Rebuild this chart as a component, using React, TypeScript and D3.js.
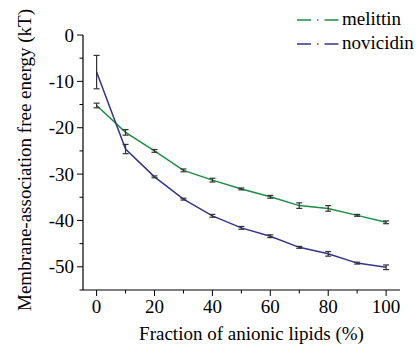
import React from "react";
import * as d3 from "d3";

const fractions = [0, 10, 20, 30, 40, 50, 60, 70, 80, 90, 100];
const melittin = [-15.2, -21.0, -25.0, -29.2, -31.3, -33.2, -34.9, -36.8, -37.4, -38.9, -40.4];
const melittinErr = [0.5, 0.6, 0.3, 0.3, 0.4, 0.2, 0.3, 0.6, 0.6, 0.2, 0.3];
const novicidin = [-8.0, -24.6, -30.6, -35.4, -39.0, -41.6, -43.4, -45.8, -47.2, -49.2, -50.1];
const novicidinErr = [3.6, 1.0, 0.2, 0.2, 0.3, 0.3, 0.3, 0.2, 0.5, 0.2, 0.5];
const yMajorTicks = [0, -10, -20, -30, -40, -50];
const yMinorTicks = [-5, -15, -25, -35, -45, -55];
const xMajorTicks = [0, 20, 40, 60, 80, 100];
const xMinorTicks = [10, 30, 50, 70, 90];
const seriesNames = ["melittin", "novicidin"];
const seriesColors = ["#1e8c45", "#34348a"];

const W = 418, H = 347;
const left = 83, right = 400, top = 35, bottom = 290;
const font = "Liberation Serif, Times New Roman, serif";

export default function App() {
  const x = d3.scaleLinear().domain([-4.7, 104.8]).range([left, right]);
  const y = d3.scaleLinear().domain([-55, 0]).range([bottom, top]);
  const line = d3.line<number>().x((_, i) => x(fractions[i])).y((d) => y(d));
  const series = [
    { vals: melittin, errs: melittinErr },
    { vals: novicidin, errs: novicidinErr },
  ];
  return (
    <svg width={W} height={H} style={{ position: "absolute", left: 0, top: 0, background: "#fff" }}>
      <line x1={left} x2={left} y1={y(0)} y2={bottom} stroke="#000" strokeWidth={1.2} />
      <line x1={left} x2={right} y1={bottom} y2={bottom} stroke="#000" strokeWidth={1.2} />
      {yMajorTicks.map((t) => (
        <g key={"ym" + t}>
          <line x1={left - 6} x2={left} y1={y(t)} y2={y(t)} stroke="#000" strokeWidth={1} />
          <text x={left - 9} y={y(t)} dy="0.35em" textAnchor="end" style={{ fontFamily: font, fontSize: 19 }}>
            {t === 0 ? "0" : "-" + Math.abs(t)}
          </text>
        </g>
      ))}
      {yMinorTicks.map((t) => (
        <line key={"yn" + t} x1={left - 3.5} x2={left} y1={y(t)} y2={y(t)} stroke="#000" strokeWidth={1} />
      ))}
      {xMajorTicks.map((t) => (
        <g key={"xm" + t}>
          <line x1={x(t)} x2={x(t)} y1={bottom} y2={bottom + 6} stroke="#000" strokeWidth={1} />
          <text x={x(t)} y={313} textAnchor="middle" style={{ fontFamily: font, fontSize: 19 }}>
            {t}
          </text>
        </g>
      ))}
      {xMinorTicks.map((t) => (
        <line key={"xn" + t} x1={x(t)} x2={x(t)} y1={bottom} y2={bottom + 3.5} stroke="#000" strokeWidth={1} />
      ))}
      {series.map((s, si) => (
        <g key={si}>
          <path d={line(s.vals) || ""} fill="none" stroke={seriesColors[si]} strokeWidth={1.5} />
          {s.vals.map((v, i) => {
            const cx = x(fractions[i]);
            const y1 = y(v + s.errs[i]);
            const y2 = y(v - s.errs[i]);
            return (
              <g key={i} stroke="#333" strokeWidth={1.2}>
                <line x1={cx} x2={cx} y1={y1} y2={y2} />
                <line x1={cx - 3} x2={cx + 3} y1={y1} y2={y1} />
                <line x1={cx - 3} x2={cx + 3} y1={y2} y2={y2} />
              </g>
            );
          })}
        </g>
      ))}
      {seriesNames.map((n, i) => (
        <g key={n}>
          <line x1={297} x2={339} y1={20 + i * 24} y2={20 + i * 24} stroke={seriesColors[i]} strokeWidth={1.5} strokeDasharray="14,6,1.5,6,14" />
          <text x={342} y={24.5 + i * 24} style={{ fontFamily: font, fontSize: 19 }}>
            {n}
          </text>
        </g>
      ))}
      <text x={251.5} y={340} textAnchor="middle" style={{ fontFamily: font, fontSize: 19 }}>
        Fraction of anionic lipids (%)
      </text>
      <text transform={`translate(31, 160) rotate(-90)`} textAnchor="middle" style={{ fontFamily: font, fontSize: 19 }}>
        Membrane-association free energy (kT)
      </text>
    </svg>
  );
}
